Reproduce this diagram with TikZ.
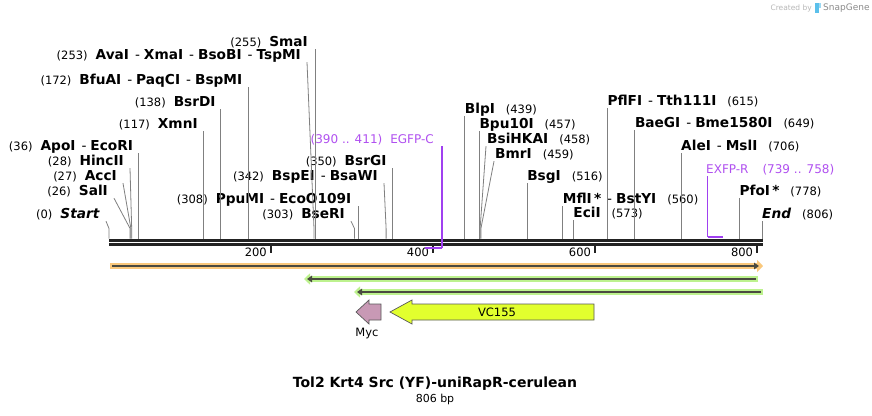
\documentclass[tikz,border=0pt]{standalone}
\usepackage{fontspec}
\setmainfont{DejaVu Sans}
\usetikzlibrary{positioning,calc,arrows.meta}
\definecolor{cutgray}{HTML}{808080}
\definecolor{bbdark}{HTML}{222222}
\definecolor{primer}{HTML}{A040F0}
\definecolor{primertxt}{HTML}{B050F0}
\definecolor{orband}{HTML}{FAC87C}
\definecolor{grband}{HTML}{BDF28E}
\definecolor{featline}{HTML}{4A4A40}
\definecolor{mycpink}{HTML}{C899B5}
\definecolor{vcyellow}{HTML}{E2FF2E}
\definecolor{logoblue}{HTML}{5BC0EB}
\newcommand{\pn}[1]{{\mdseries\fontsize{11.5}{13}\selectfont(#1)}}
\newcommand{\enzsep}{\hspace{6pt}{\mdseries -}\hspace{4pt}}
\newcommand{\ngap}{\hspace{8pt}}
\newcommand{\rgap}{\hspace{11pt}}

\begin{document}
\begin{tikzpicture}[x=1pt,y=-1pt,
  enz/.style={font=\fontsize{13.7}{15}\selectfont\bfseries, inner sep=0pt, text height=9.5pt, text depth=2.5pt},
  lab/.style={enz, anchor=east},
  rab/.style={enz, anchor=west},
  prim/.style={font=\fontsize{12}{15}\selectfont, text=primertxt, inner sep=0pt, text height=9.5pt, text depth=2.5pt},
  cut/.style={draw=cutgray, line width=0.8pt},
  primline/.style={draw=primer, line width=1.2pt},
  primbar/.style={draw=primer, line width=2pt},
  tick/.style={draw=bbdark, line width=1.6pt},
  ticklab/.style={font=\fontsize{11.5}{13}\selectfont, inner sep=0pt, anchor=east},
  feat/.style={draw=black!65, line width=0.7pt},
  featlab/.style={font=\fontsize{11.5}{13}\selectfont, inner sep=0pt}]
\useasboundingbox (0,0) rectangle (872,415);
\fill[white] (0,0) rectangle (872,415);

% watermark
\node[font=\fontsize{7.5}{8}\selectfont, text=black!28, anchor=east, inner sep=0pt] (wm1) at (812,8) {Created by};
\fill[logoblue] (815,3) rectangle (818.5,13);
\fill[logoblue!60] (818.5,3) rectangle (821,8);
\node[font=\fontsize{9}{10}\selectfont, text=black!45, anchor=west, inner sep=0pt] (wm2) at (823,8) {SnapGene};

% backbone
\coordinate (bbL) at (109,240.3);
\coordinate (bbR) at (762.5,240.3);
\draw[line width=2.6pt, bbdark] (bbL) -- (bbR);
\draw[line width=2.6pt, bbdark] ($(bbL)+(0,3.9)$) -- ($(bbR)+(0,3.9)$);

% ticks
\coordinate (k200) at (271.0,245.5);
\coordinate (k400) at (433.1,245.5);
\coordinate (k600) at (595.1,245.5);
\coordinate (k800) at (757.2,245.5);
\foreach \k in {200,400,600,800}{
  \draw[tick] (k\k) -- ++(0,7.5);
  \node[ticklab] (n\k) at ($(k\k)+(-4,6.5)$) {\k};
}

% cut sites
\coordinate (s0) at (109.0,238.5);
\coordinate (s26) at (130.1,238.5);
\coordinate (s27) at (130.9,238.5);
\coordinate (s28) at (131.7,238.5);
\coordinate (s36) at (138.2,238.5);
\coordinate (s117) at (203.8,238.5);
\coordinate (s138) at (220.8,238.5);
\coordinate (s172) at (248.4,238.5);
\coordinate (s253) at (314.0,238.5);
\coordinate (s255) at (315.6,238.5);
\coordinate (s303) at (354.5,238.5);
\coordinate (s308) at (358.5,238.5);
\coordinate (s342) at (386.1,238.5);
\coordinate (s350) at (392.6,238.5);
\coordinate (s439) at (464.7,238.5);
\coordinate (s457) at (479.3,238.5);
\coordinate (s458) at (480.1,238.5);
\coordinate (s459) at (480.9,238.5);
\coordinate (s516) at (527.1,238.5);
\coordinate (s560) at (562.7,238.5);
\coordinate (s573) at (573.2,238.5);
\coordinate (s615) at (607.3,238.5);
\coordinate (s649) at (634.8,238.5);
\coordinate (s706) at (681.0,238.5);
\coordinate (s778) at (739.3,238.5);
\coordinate (s806) at (762.0,238.5);

% labels left of their site
\node[lab] (l255) at (308,43) {\pn{255}\ngap SmaI};
\node[lab] (l253) at (301,56) {\pn{253}\ngap AvaI\enzsep XmaI\enzsep BsoBI\enzsep TspMI};
\node[lab] (l172) at (242.4,81) {\pn{172}\ngap BfuAI\enzsep PaqCI\enzsep BspMI};
\node[lab] (l138) at (215.8,103) {\pn{138}\ngap BsrDI};
\node[lab] (l117) at (197.8,125) {\pn{117}\ngap XmnI};
\node[lab] (l36) at (133.2,147) {\pn{36}\ngap ApoI\enzsep EcoRI};
\node[lab] (l28) at (124,162) {\pn{28}\ngap HincII};
\node[lab] (l27) at (117,177) {\pn{27}\ngap AccI};
\node[lab] (l26) at (108,192) {\pn{26}\ngap SalI};
\node[lab] (l0) at (100,215) {\pn{0}\ngap \textit{Start}};
\node[lab] (l350) at (386.6,162) {\pn{350}\ngap BsrGI};
\node[lab] (l342) at (378,177) {\pn{342}\ngap BspEI\enzsep BsaWI};
\node[lab] (l308) at (351.5,200) {\pn{308}\ngap PpuMI\enzsep EcoO109I};
\node[lab] (l303) at (345,215) {\pn{303}\ngap BseRI};

% labels right of their site
\node[rab] (r439) at (464.7,110) {BlpI\rgap\pn{439}};
\node[rab] (r457) at (479.3,125) {Bpu10I\rgap\pn{457}};
\node[rab] (r458) at (487,140) {BsiHKAI\rgap\pn{458}};
\node[rab] (r459) at (495,155) {BmrI\rgap\pn{459}};
\node[rab] (r516) at (527.1,177) {BsgI\rgap\pn{516}};
\node[rab] (r560) at (562.7,200) {MflI\,*\enzsep BstYI\rgap\pn{560}};
\node[rab] (r573) at (573.2,214) {EciI\rgap\pn{573}};
\node[rab] (r615) at (607.3,102) {PflFI\enzsep Tth111I\rgap\pn{615}};
\node[rab] (r649) at (634.8,124) {BaeGI\enzsep Bme1580I\rgap\pn{649}};
\node[rab] (r706) at (681.0,147) {AleI\enzsep MslI\rgap\pn{706}};
\node[rab] (r778) at (739.3,192) {PfoI\,*\rgap\pn{778}};
\node[rab] (r806) at (762.0,215) {\textit{End}\rgap\pn{806}};

% straight cut lines
\foreach \e in {255,172,138,117,36,350,308}
  \draw[cut] (s\e) -- (s\e |- l\e.south);
\foreach \e in {439,457,516,560,573,615,649,706,778,806}
  \draw[cut] (s\e) -- (s\e |- r\e.south);

% bent cut lines
\foreach \e in {253,28,27,26,0,342,303}
  \draw[cut] (s\e) -- ++(0,-10) -- ($(l\e.south east)+(6,0)$);
\foreach \e in {458,459}
  \draw[cut] (s\e) -- ++(0,-10) -- ($(r\e.south west)+(-1,0)$);

% primers
\node[prim, anchor=east] (pegfp) at (434,140) {(390 .. 411)\hspace{8pt}EGFP-C};
\coordinate (e1) at (425.0,248);
\coordinate (e2) at (442.0,248);
\draw[primline] (e2 |- pegfp.south) -- (e2);
\draw[primbar] (e2) -- (e1);

\node[prim, anchor=west] (pexfp) at (706,170) {EXFP-R\hspace{14pt}(739 .. 758)};
\coordinate (x1) at (707.7,236.5);
\coordinate (x2) at (723.1,236.5);
\draw[primline] (x1 |- pexfp.south) -- (x1);
\draw[primbar] (x1) -- (x2);

% feature bars
\coordinate (oL) at (110,266);
\coordinate (oR) at (763,266);
\draw[orband, line width=6pt, -{Triangle[length=6pt,width=12pt]}] (oL) -- (oR);
\draw[featline, line width=2pt, -{Triangle[length=5pt,width=6.5pt]}] ($(oL)+(2,0)$) -- ($(oR)+(-4,0)$);

\coordinate (g1L) at (304,279);
\coordinate (g1R) at (758,279);
\draw[grband, line width=5.5pt, -{Triangle[length=6pt,width=11pt]}] (g1R) -- (g1L);
\draw[featline, line width=2pt, -{Triangle[length=5pt,width=6.5pt]}] ($(g1R)+(-2,0)$) -- ($(g1L)+(3,0)$);

\coordinate (g2L) at (354,292);
\coordinate (g2R) at (763,292);
\draw[grband, line width=5.5pt, -{Triangle[length=6pt,width=11pt]}] (g2R) -- (g2L);
\draw[featline, line width=2pt, -{Triangle[length=5pt,width=6.5pt]}] ($(g2R)+(-2,0)$) -- ($(g2L)+(3,0)$);

% features
\filldraw[feat, fill=mycpink] (356,312) -- (369,300) -- (369,304) -- (381,304) -- (381,320) -- (369,320) -- (369,324) -- cycle;
\node[featlab] (myc) at (367,333) {Myc};
\filldraw[feat, fill=vcyellow] (390,312) -- (412,300) -- (412,304) -- (594,304) -- (594,320) -- (412,320) -- (412,324) -- cycle;
\node[featlab] (vc155) at (497,312) {VC155};

% title
\node[font=\fontsize{14}{16}\selectfont\bfseries, inner sep=0pt] (title) at (435,384) {Tol2 Krt4 Src (YF)-uniRapR-cerulean};
\node[font=\fontsize{11}{13}\selectfont, inner sep=0pt] (bp) at (435,399.5) {806 bp};
\end{tikzpicture}
\end{document}
